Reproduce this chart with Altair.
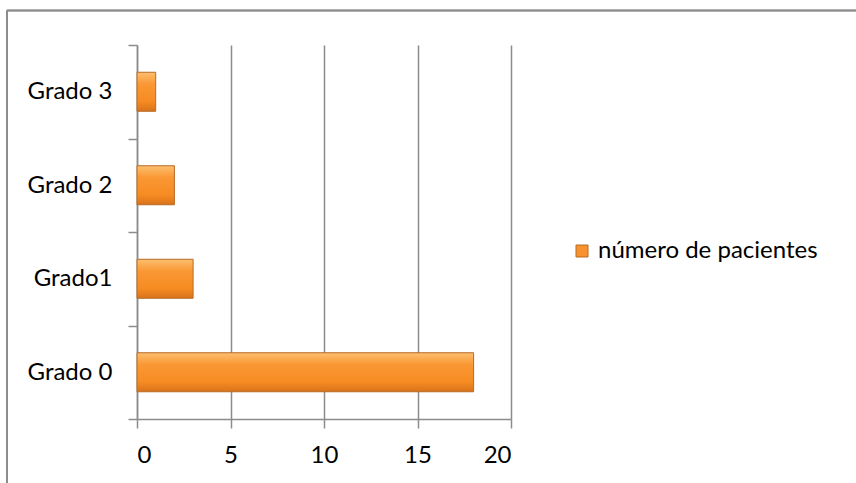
import altair as alt
import pandas as pd

# Number of patients per grade
grados = ["Grado 0", "Grado1", "Grado 2", "Grado 3"]
pacientes = [18, 3, 2, 1]
serie = "número de pacientes"

orden = ["Grado 3", "Grado 2", "Grado1", "Grado 0"]
x_ticks = [0, 5, 10, 15, 20]

df = pd.DataFrame({"grado": grados, "pacientes": pacientes, "serie": [serie] * len(grados)})

FONT = "Lato"
FS = 24
GRAY = "#8c8c8c"

W, H = 374, 374
PAD = {"left": 137, "top": 45, "right": 856 - 137 - W, "bottom": 483 - 45 - H}

bar_fill = {
    "gradient": "linear",
    "x1": 0, "y1": 0, "x2": 0, "y2": 1,
    "stops": [
        {"offset": 0.0, "color": "#fcbf70"},
        {"offset": 0.3, "color": "#fa9834"},
        {"offset": 0.75, "color": "#f68b22"},
        {"offset": 1.0, "color": "#d8731a"},
    ],
}

bars = alt.Chart(df).mark_bar(
    size=39, fill=bar_fill, stroke="#b86a26", strokeWidth=1
).encode(
    x=alt.X(
        "pacientes:Q",
        scale=alt.Scale(domain=[0, 20], nice=False),
        axis=alt.Axis(
            values=x_ticks, title=None, grid=True, gridColor=GRAY, gridWidth=1.5,
            domainColor=GRAY, domainWidth=1.5, tickColor=GRAY, tickWidth=1.5,
            tickSize=9, labelPadding=15, labelFont=FONT, labelFontSize=FS,
            labelColor="#000000",
        ),
    ),
    y=alt.Y(
        "grado:N",
        sort=orden,
        scale=alt.Scale(paddingInner=0, paddingOuter=0),
        axis=alt.Axis(
            title=None, tickBand="extent", domainColor=GRAY, domainWidth=1.5,
            tickColor=GRAY, tickWidth=1.5, tickSize=9, labelPadding=16,
            labelFont=FONT, labelFontSize=FS, labelColor="#000000",
        ),
    ),
    color=alt.Color(
        "serie:N",
        scale=alt.Scale(range=["#f7922e"]),
        legend=alt.Legend(
            title=None, orient="none", legendX=433, legendY=194,
            symbolType="square", symbolSize=144, symbolStrokeColor="#b86a26",
            symbolStrokeWidth=1, labelFont=FONT, labelFontSize=FS,
            labelColor="#000000", labelOffset=4, labelLimit=400,
        ),
    ),
)

# Outer frame (left and top edges)
frame_left = alt.Chart(df).mark_rule(color=GRAY, strokeWidth=1.5).encode(
    x=alt.value(7 - 137), y=alt.value(10.5 - 45), y2=alt.value(483)
)
frame_top = alt.Chart(df).mark_rule(color=GRAY, strokeWidth=1.5).encode(
    x=alt.value(7 - 137), x2=alt.value(856), y=alt.value(10.5 - 45)
)

chart = alt.layer(bars, frame_left, frame_top).properties(
    width=W, height=H, padding=PAD,
    autosize=alt.AutoSizeParams(type="none"),
    background="white",
).configure_view(stroke=None)

chart.save("out.html", embed_options={"renderer": "svg", "actions": False})
